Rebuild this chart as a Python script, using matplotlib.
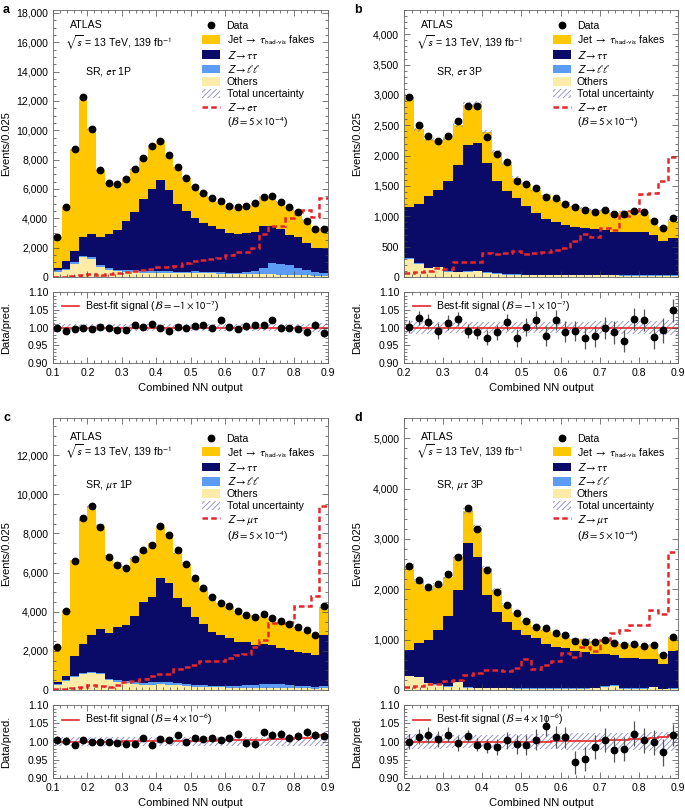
import numpy as np
import matplotlib

matplotlib.use("Agg")
import matplotlib.pyplot as plt
from matplotlib.lines import Line2D
from matplotlib.patches import Patch
from matplotlib.ticker import FuncFormatter, MultipleLocator

plt.rcParams["font.family"] = ["Liberation Sans", "DejaVu Sans"]
plt.rcParams["mathtext.fontset"] = "stixsans"
plt.rcParams["hatch.linewidth"] = 0.6

FAKES = "#ffc700"
ZTT = "#0a0a68"
ZLL = "#5c9cf5"
OTHERS = "#fdeba8"
HATCH = "#8a8ac4"
SIGNAL = "#e8262a"
FS = 7.6

# ---- panel a: SR, e-tau 1P (bins of 0.025 from 0.1 to 0.9)
data_a = [2700, 4800, 8700, 12300, 10100, 7300, 6400, 6350, 6700, 7350, 8100, 8950, 9300, 8300, 7500, 6750,
          6150, 5750, 5400, 5200, 4850, 4750, 4850, 5050, 5450, 5550, 5100, 4750, 4450, 3850, 3300, 3300]
others_a = [350, 450, 900, 1350, 1250, 700, 500, 400, 350, 350, 300, 300, 300, 280, 250, 250,
            280, 250, 250, 220, 200, 200, 200, 200, 180, 180, 150, 150, 130, 120, 100, 100]
zll_a = [150, 100, 100, 100, 100, 100, 100, 100, 100, 120, 120, 120, 120, 120, 100, 100,
         100, 100, 100, 100, 100, 100, 150, 200, 450, 750, 750, 650, 500, 350, 250, 200]
ztt_a = [100, 550, 800, 1250, 1600, 1950, 2300, 2700, 3350, 3930, 4880, 5580, 6180, 5500, 4650, 4150,
         3620, 3350, 3150, 2980, 2700, 2650, 2650, 2700, 2870, 2570, 2350, 2050, 2070, 1830, 1650, 1650]
fakes_a = [2100, 3700, 6900, 9600, 7150, 4550, 3500, 3150, 2900, 2950, 2800, 2950, 2700, 2400, 2500, 2250,
           2150, 2050, 1900, 1800, 1850, 1800, 1850, 1950, 1950, 1950, 1850, 1900, 1750, 1600, 1300, 1400]
signal_a = [20, 30, 100, 150, 170, 130, 200, 260, 350, 420, 470, 560, 680, 700, 740, 950,
            1100, 1160, 1230, 1300, 1500, 1700, 1700, 1950, 2900, 3450, 3500, 4000, 4300, 4600, 4100, 5400]
ratio_a = [1.000, 0.990, 0.997, 1.000, 0.995, 1.001, 0.998, 0.993, 0.993, 1.008, 1.001, 1.011, 0.998, 0.991, 1.002, 0.999,
           1.003, 1.006, 0.999, 1.020, 1.002, 0.995, 1.003, 1.007, 1.006, 1.020, 0.999, 0.999, 0.997, 0.987, 1.006, 0.985]
err_a = [0.010, 0.008, 0.006, 0.005, 0.005, 0.006, 0.007, 0.007, 0.007, 0.007, 0.006, 0.006, 0.006, 0.006, 0.007, 0.007,
         0.008, 0.008, 0.008, 0.009, 0.009, 0.009, 0.009, 0.009, 0.008, 0.008, 0.009, 0.009, 0.010, 0.010, 0.011, 0.011]
unc_a = [0.012, 0.011, 0.010, 0.010, 0.010, 0.010, 0.010, 0.010, 0.010, 0.010, 0.010, 0.010, 0.010, 0.010, 0.010, 0.010,
         0.010, 0.010, 0.010, 0.010, 0.010, 0.010, 0.010, 0.010, 0.010, 0.010, 0.010, 0.010, 0.011, 0.011, 0.012, 0.012]
fit_a = [1.000] * 32

# ---- panel b: SR, e-tau 3P (0.2 to 0.9)
data_b = [2970, 2500, 2320, 2240, 2330, 2570, 2815, 2810, 2315, 2035, 1890, 1585, 1540, 1460,
          1315, 1295, 1195, 1160, 1100, 1075, 1100, 1040, 1035, 1080, 1065, 925, 815, 975]
others_b = [290, 210, 140, 160, 90, 80, 90, 95, 70, 50, 40, 35, 30, 30,
            30, 25, 25, 25, 25, 25, 25, 25, 20, 20, 20, 20, 20, 20]
zll_b = [15, 15, 10, 10, 10, 10, 10, 10, 10, 10, 10, 10, 10, 10,
         10, 10, 10, 10, 10, 10, 10, 10, 10, 10, 10, 10, 10, 10]
ztt_b = [845, 975, 1190, 1270, 1475, 1760, 2080, 2110, 1795, 1515, 1360, 1250, 1125, 1015,
         920, 865, 825, 795, 770, 755, 745, 705, 710, 710, 705, 655, 555, 605]
fakes_b = [1815, 1240, 940, 820, 725, 660, 660, 635, 510, 490, 450, 340, 370, 375,
           390, 370, 350, 340, 330, 310, 320, 315, 340, 315, 310, 270, 240, 295]
signal_b = [65, 90, 95, 150, 130, 240, 250, 250, 400, 380, 400, 420, 380, 400,
            410, 450, 470, 600, 710, 660, 800, 770, 1000, 1080, 1360, 1380, 1580, 1980]
ratio_b = [1.002, 1.026, 1.016, 0.990, 1.013, 1.025, 0.990, 0.986, 0.971, 0.986, 1.016, 0.970, 1.002, 1.021,
           0.976, 1.022, 0.988, 0.990, 0.970, 0.975, 0.999, 0.986, 0.961, 1.024, 1.020, 0.972, 0.992, 1.048]
err_b = [0.018, 0.020, 0.021, 0.022, 0.021, 0.020, 0.019, 0.019, 0.021, 0.022, 0.023, 0.025, 0.026, 0.026,
         0.027, 0.028, 0.029, 0.029, 0.030, 0.030, 0.030, 0.031, 0.031, 0.030, 0.031, 0.033, 0.035, 0.032]
unc_b = [0.019, 0.018, 0.017, 0.016, 0.016, 0.015, 0.015, 0.015, 0.015, 0.015, 0.015, 0.015, 0.015, 0.015,
         0.015, 0.015, 0.016, 0.016, 0.016, 0.017, 0.017, 0.017, 0.018, 0.018, 0.019, 0.019, 0.020, 0.020]
fit_b = [1.000] * 28

# ---- panel c: SR, mu-tau 1P (0.1 to 0.9)
data_c = [2200, 4030, 6580, 8780, 9385, 8350, 6800, 6405, 6235, 6680, 7150, 7420, 8385, 7920, 7150, 6440,
          5700, 5220, 4735, 4445, 4270, 4030, 3840, 3755, 3860, 3700, 3530, 3390, 3240, 3065, 2790, 4290]
others_c = [250, 450, 650, 820, 870, 800, 500, 420, 380, 300, 280, 280, 300, 280, 250, 200,
            180, 160, 140, 130, 120, 110, 120, 100, 100, 90, 90, 80, 80, 80, 70, 100]
zll_c = [60, 60, 60, 60, 60, 60, 60, 80, 80, 100, 100, 120, 120, 120, 100, 100,
         80, 80, 80, 80, 100, 120, 150, 180, 200, 200, 200, 170, 150, 120, 100, 100]
ztt_c = [120, 230, 1010, 1495, 1880, 2275, 2370, 2740, 2860, 3370, 4115, 4335, 5300, 5060, 4350, 3950,
         3495, 3120, 2760, 2580, 2450, 2215, 2175, 2045, 2060, 2000, 1860, 1815, 1735, 1695, 1605, 2610]
fakes_c = [1760, 3280, 4930, 6380, 6575, 5230, 3885, 3200, 2960, 2950, 2590, 2760, 2615, 2430, 2325, 2190,
           1895, 1820, 1715, 1635, 1560, 1500, 1410, 1460, 1405, 1340, 1305, 1295, 1225, 1090, 965, 1410]
signal_c = [30, 50, 90, 170, 260, 200, 170, 260, 430, 465, 570, 740, 810, 810, 1085, 1190,
            1290, 1465, 1500, 1500, 1640, 1800, 1850, 2200, 2550, 3400, 3400, 3500, 4300, 4300, 4800, 9400]
ratio_c = [1.004, 1.002, 0.990, 1.003, 1.000, 0.998, 0.998, 0.995, 0.993, 0.994, 1.009, 0.990, 1.006, 1.004, 1.018, 1.000,
           1.009, 1.008, 1.009, 1.004, 1.010, 1.021, 0.996, 0.992, 1.025, 1.019, 1.021, 1.009, 1.016, 1.026, 1.018, 1.016]
err_c = [0.012, 0.009, 0.007, 0.006, 0.006, 0.006, 0.007, 0.007, 0.007, 0.007, 0.007, 0.007, 0.006, 0.006, 0.007, 0.007,
         0.008, 0.008, 0.009, 0.009, 0.009, 0.010, 0.010, 0.010, 0.010, 0.010, 0.010, 0.011, 0.011, 0.011, 0.012, 0.010]
unc_c = [0.013, 0.012, 0.012, 0.012, 0.012, 0.012, 0.012, 0.012, 0.012, 0.012, 0.012, 0.012, 0.012, 0.012, 0.012, 0.012,
         0.012, 0.012, 0.012, 0.012, 0.012, 0.012, 0.012, 0.012, 0.012, 0.012, 0.012, 0.012, 0.012, 0.012, 0.012, 0.012]
fit_c = [1.000, 1.000, 1.000, 1.000, 1.000, 1.000, 1.000, 1.000, 1.001, 1.001, 1.001, 1.001, 1.002, 1.002, 1.002, 1.002,
         1.002, 1.002, 1.002, 1.003, 1.003, 1.003, 1.004, 1.004, 1.005, 1.006, 1.006, 1.007, 1.009, 1.010, 1.011, 1.018]

# ---- panel d: SR, mu-tau 3P (0.2 to 0.9)
data_d = [2467, 2180, 2048, 2100, 2294, 2633, 3604, 3198, 2387, 1948, 1695, 1523, 1363, 1257,
          1237, 1130, 1090, 964, 957, 951, 991, 937, 898, 904, 878, 884, 705, 1050]
others_d = [270, 250, 130, 100, 70, 150, 50, 40, 40, 35, 35, 30, 30, 30,
            30, 30, 30, 30, 30, 35, 70, 80, 30, 30, 30, 60, 20, 30]
zll_d = [10, 10, 10, 10, 10, 10, 10, 10, 10, 10, 10, 10, 10, 10,
         10, 10, 10, 10, 10, 10, 10, 10, 10, 10, 10, 10, 10, 10]
ztt_d = [520, 665, 855, 1085, 1395, 1820, 2865, 2590, 1845, 1500, 1310, 1150, 1045, 990,
         870, 820, 785, 725, 705, 680, 630, 610, 605, 590, 580, 540, 480, 725]
fakes_d = [1670, 1230, 1015, 890, 775, 665, 625, 585, 520, 435, 335, 345, 290, 220,
           275, 260, 255, 255, 260, 240, 275, 260, 270, 255, 255, 275, 215, 265]
signal_d = [66, 80, 110, 110, 170, 200, 300, 330, 400, 400, 370, 430, 620, 420,
            500, 570, 730, 660, 850, 770, 1000, 1130, 1200, 1300, 1300, 1580, 1500, 2730]
ratio_d = [1.000, 1.013, 1.017, 1.007, 1.019, 0.995, 1.015, 0.991, 0.988, 0.985, 1.003, 0.992, 0.991, 1.005,
           1.043, 1.012, 1.011, 0.943, 0.952, 0.985, 1.004, 0.978, 0.979, 1.021, 1.003, 0.998, 0.971, 1.018]
err_d = [0.020, 0.021, 0.022, 0.022, 0.021, 0.020, 0.017, 0.018, 0.020, 0.023, 0.024, 0.026, 0.027, 0.028,
         0.029, 0.030, 0.030, 0.032, 0.032, 0.032, 0.032, 0.033, 0.033, 0.034, 0.034, 0.034, 0.037, 0.031]
unc_d = [0.021, 0.020, 0.020, 0.020, 0.019, 0.019, 0.018, 0.018, 0.019, 0.019, 0.020, 0.020, 0.020, 0.021,
         0.021, 0.021, 0.022, 0.022, 0.022, 0.023, 0.023, 0.023, 0.024, 0.024, 0.024, 0.025, 0.025, 0.025]
fit_d = [0.998, 0.998, 0.998, 0.998, 0.998, 0.998, 0.999, 0.999, 0.999, 0.999, 0.999, 1.000, 1.000, 1.000,
         1.000, 1.001, 1.001, 1.002, 1.002, 1.002, 1.003, 1.004, 1.005, 1.007, 1.008, 1.010, 1.012, 1.019]


def style_axis(ax):
    ax.tick_params(which="both", direction="in", top=True, right=True,
                   labelsize=FS, width=0.5, color="#444444")
    ax.tick_params(which="major", length=4)
    ax.tick_params(which="minor", length=2)
    for s in ax.spines.values():
        s.set_linewidth(0.6)
        s.set_color("#666666")


def draw_panel(fig, main_pos, ratio_pos, letter, lo, layers, data, signal,
               ratio, err, unc, fit, ymax, ymajor, yminor, region, sig_name, fit_text,
               text_y, leg_y):
    n = len(data)
    edges = np.linspace(lo, 0.9, n + 1)
    centers = 0.5 * (edges[:-1] + edges[1:])
    unc = np.asarray(unc)

    ax = fig.add_axes(main_pos)
    base = np.zeros(n)
    for vals, col in layers:
        top = base + np.asarray(vals, float)
        ax.stairs(top, edges, baseline=base, fill=True, color=col, lw=0)
        base = top
    total = base
    ax.stairs(total * (1 + unc), edges, baseline=total * (1 - unc), fill=True,
              facecolor="none", edgecolor=HATCH, hatch="//////", lw=0)
    ax.stairs(signal, edges, baseline=None, color=SIGNAL, lw=1.8, ls=(0, (2.2, 1.3)))
    ax.plot(centers, data, "o", color="black", ms=4.6, zorder=5)

    ax.set_xlim(lo, 0.9)
    ax.set_ylim(0, ymax)
    ax.xaxis.set_major_locator(MultipleLocator(0.1))
    ax.xaxis.set_minor_locator(MultipleLocator(0.02))
    ax.yaxis.set_major_locator(MultipleLocator(ymajor))
    ax.yaxis.set_minor_locator(MultipleLocator(yminor))
    ax.yaxis.set_major_formatter(FuncFormatter(lambda v, p: f"{v:,.0f}"))
    ax.tick_params(labelbottom=False)
    style_axis(ax)
    ax.set_ylabel("Events/0.025", fontsize=8)
    ax.yaxis.set_label_coords(-0.153, 0.5)

    ax.text(0.062, text_y[0], "ATLAS", transform=ax.transAxes, fontsize=FS, va="center")
    ax.text(0.045, text_y[1], r"$\sqrt{s}$ = 13 TeV, 139 fb$^{-1}$", transform=ax.transAxes,
            fontsize=FS, va="center")
    ax.text(0.115, text_y[2], region, transform=ax.transAxes, fontsize=FS, va="center")

    handles = [
        Line2D([], [], ls="none", marker="o", color="black", ms=4.6),
        Patch(facecolor=FAKES, lw=0),
        Patch(facecolor=ZTT, lw=0),
        Patch(facecolor=ZLL, lw=0),
        Patch(facecolor=OTHERS, lw=0),
        Patch(facecolor="none", edgecolor=HATCH, hatch="//////", lw=0),
        Line2D([], [], color=SIGNAL, lw=1.8, ls=(0, (2.2, 1.3))),
        Line2D([], [], ls="none"),
    ]
    labels = ["Data", r"Jet $\rightarrow$ $\tau_{\mathrm{had‐vis}}$ fakes", r"$Z\rightarrow\tau\tau$",
              r"$Z\rightarrow\ell\ell$", "Others", "Total uncertainty", sig_name,
              r"($\mathcal{B} = 5\times10^{-4}$)"]
    ax.legend(handles, labels, loc="upper left", bbox_to_anchor=(0.535, leg_y), frameon=False,
              fontsize=FS, handlelength=1.7, handleheight=0.9, handletextpad=0.6,
              labelspacing=0.2, borderpad=0.2, borderaxespad=0)

    rax = fig.add_axes(ratio_pos)
    rax.stairs(1 + unc, edges, baseline=1 - unc, fill=True, facecolor="none",
               edgecolor=HATCH, hatch="//////", lw=0)
    rax.stairs(fit, edges, baseline=None, color=SIGNAL, lw=1.2)
    rax.errorbar(centers, ratio, yerr=err, fmt="o", color="black", ms=4.6,
                 ecolor="#555555", elinewidth=0.9, capsize=0, zorder=5)
    rax.set_xlim(lo, 0.9)
    rax.set_ylim(0.9, 1.1)
    rax.xaxis.set_major_locator(MultipleLocator(0.1))
    rax.xaxis.set_minor_locator(MultipleLocator(0.02))
    rax.xaxis.set_major_formatter(FuncFormatter(lambda v, p: f"{v:.1f}"))
    rax.yaxis.set_major_locator(MultipleLocator(0.05))
    rax.yaxis.set_minor_locator(MultipleLocator(0.01))
    rax.yaxis.set_major_formatter(FuncFormatter(lambda v, p: f"{v:.2f}"))
    style_axis(rax)
    rax.set_ylabel("Data/pred.", fontsize=8)
    rax.yaxis.set_label_coords(-0.153, 0.5)
    rax.set_xlabel("Combined NN output", fontsize=8, labelpad=4)
    rax.legend([Line2D([], [], color=SIGNAL, lw=1.2)], [fit_text], loc="upper left",
               bbox_to_anchor=(0.02, 0.95), frameon=False, fontsize=FS,
               handlelength=1.6, handletextpad=0.6, borderpad=0.3, borderaxespad=0)

    fig.text(main_pos[0] - 0.073, main_pos[1] + main_pos[3], letter, fontsize=9,
             fontweight="bold", va="center", ha="left")


fig = plt.figure(figsize=(6.85, 8.08), dpi=100)

top_text = (0.944, 0.876, 0.768)
bottom_text = (0.93, 0.875, 0.754)

draw_panel(fig, [0.0774, 0.6572, 0.4015, 0.3304], [0.0774, 0.5507, 0.4015, 0.0879], "a", 0.1,
           [(others_a, OTHERS), (zll_a, ZLL), (ztt_a, ZTT), (fakes_a, FAKES)],
           data_a, signal_a, ratio_a, err_a, unc_a, fit_a, 18200, 2000, 500,
           r"SR, $e\tau$ 1P", r"$Z\rightarrow e\tau$",
           r"Best-fit signal ($\mathcal{B} = -1\times10^{-7}$)", top_text, 0.965)
draw_panel(fig, [0.5898, 0.6572, 0.4000, 0.3304], [0.5898, 0.5507, 0.4000, 0.0879], "b", 0.2,
           [(others_b, OTHERS), (zll_b, ZLL), (ztt_b, ZTT), (fakes_b, FAKES)],
           data_b, signal_b, ratio_b, err_b, unc_b, fit_b, 4400, 500, 100,
           r"SR, $e\tau$ 3P", r"$Z\rightarrow e\tau$",
           r"Best-fit signal ($\mathcal{B} = -1\times10^{-7}$)", top_text, 0.965)
draw_panel(fig, [0.0774, 0.1460, 0.4015, 0.3367], [0.0774, 0.0371, 0.4015, 0.0904], "c", 0.1,
           [(others_c, OTHERS), (zll_c, ZLL), (ztt_c, ZTT), (fakes_c, FAKES)],
           data_c, signal_c, ratio_c, err_c, unc_c, fit_c, 13900, 2000, 500,
           r"SR, $\mu\tau$ 1P", r"$Z\rightarrow \mu\tau$",
           r"Best-fit signal ($\mathcal{B} = 4\times10^{-6}$)", bottom_text, 0.95)
draw_panel(fig, [0.5898, 0.1460, 0.4000, 0.3367], [0.5898, 0.0371, 0.4000, 0.0904], "d", 0.2,
           [(others_d, OTHERS), (zll_d, ZLL), (ztt_d, ZTT), (fakes_d, FAKES)],
           data_d, signal_d, ratio_d, err_d, unc_d, fit_d, 5400, 1000, 200,
           r"SR, $\mu\tau$ 3P", r"$Z\rightarrow \mu\tau$",
           r"Best-fit signal ($\mathcal{B} = 4\times10^{-6}$)", bottom_text, 0.95)

fig.savefig("out.png", dpi=100)
